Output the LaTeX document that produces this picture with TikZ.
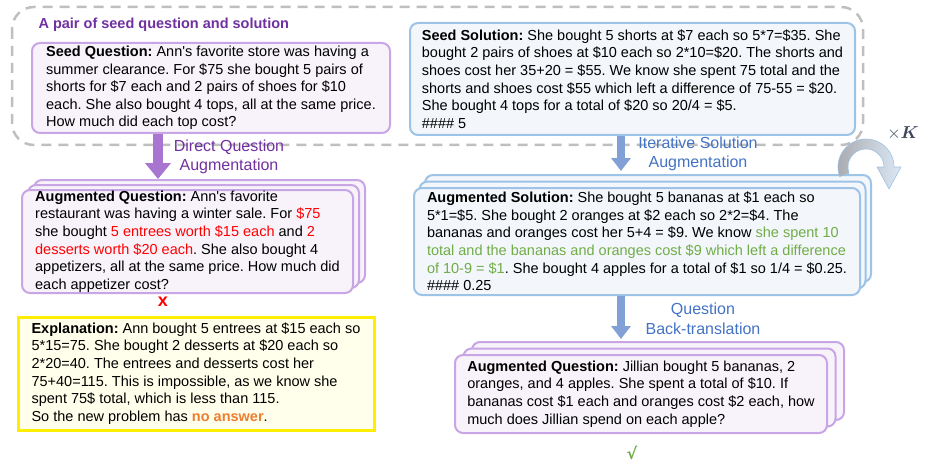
\documentclass[tikz,border=0pt]{standalone}
\usepackage{fontspec}
\setmainfont{Liberation Sans}[Ligatures=TeXOff]
\newfontfamily\symfont{DejaVu Sans}
\usepackage{amsmath}
\usetikzlibrary{arrows.meta,shadows,calc}
\frenchspacing

\definecolor{titlepurple}{RGB}{112,48,160}
\definecolor{qborder}{RGB}{200,165,228}
\definecolor{qfill}{RGB}{248,243,251}
\definecolor{sborder}{RGB}{157,195,230}
\definecolor{sfill}{RGB}{243,246,251}
\definecolor{qarrowc}{RGB}{168,118,208}
\definecolor{sarrowc}{RGB}{128,160,214}
\definecolor{slabelc}{RGB}{68,114,196}
\definecolor{framegray}{RGB}{191,191,191}
\definecolor{explborder}{RGB}{255,238,0}
\definecolor{explfill}{RGB}{255,255,235}
\definecolor{okgreen}{RGB}{112,173,71}
\definecolor{ansorange}{RGB}{237,125,49}
\definecolor{kgray}{RGB}{60,72,90}
\definecolor{ribbongray}{RGB}{170,172,176}
\definecolor{ribbonblue}{RGB}{220,232,246}

\begin{document}
\begin{tikzpicture}[x=1pt,y=-1pt,
    every node/.style={font=\fontsize{14.5}{17.6}\selectfont\frenchspacing},
    box/.style={rounded corners=8pt,line width=2pt,align=left,inner xsep=0pt,inner ysep=0pt},
    qbox/.style={box,draw=qborder,fill=qfill},
    sbox/.style={box,draw=sborder,fill=sfill},
    stack/.style={double copy shadow={shadow xshift=#1}},
    stack/.default={6pt,shadow yshift=5pt},
    steplabel/.style={align=center,font=\fontsize{16}{19.5}\selectfont},
    qarrow/.style={draw=qarrowc,line width=10pt,-{Triangle[length=16pt,width=25pt]}},
    sarrow/.style={draw=sarrowc,line width=8pt,-{Triangle[length=13pt,width=19pt]}}]
    \useasboundingbox (0,0) rectangle (926,468);

    \draw[draw=framegray,line width=2.5pt,dash pattern=on 10pt off 7pt,rounded corners=22pt]
      (12,7) rectangle (863,145);
    \node[anchor=west,text=titlepurple,font=\bfseries\fontsize{14.5}{17.6}\selectfont] (title) at (35,25)
      {A pair of seed question and solution};

    \node[qbox,minimum width=358pt,minimum height=90pt] (seedq) at (211,88) {%
      \textbf{Seed Question:} Ann's favorite store was having a\\
      summer clearance. For \$75 she bought 5 pairs of\\
      shorts for \$7 each and 2 pairs of shoes for \$10\\
      each. She also bought 4 tops, all at the same price.\\
      How much did each top cost?};

    \node[sbox,minimum width=445pt,minimum height=112pt] (seedsol) at (632.5,79) {%
      \textbf{Seed Solution:} She bought 5 shorts at \$7 each so 5*7=\$35. She\\
      bought 2 pairs of shoes at \$10 each so 2*10=\$20. The shorts and\\
      shoes cost her 35+20 = \$55. We know she spent 75 total and the\\
      shorts and shoes cost \$55 which left a difference of 75-55 = \$20.\\
      She bought 4 tops for a total of \$20 so 20/4 = \$5.\\
      \#\#\#\# 5};

    \node[qbox,stack,minimum width=331pt,minimum height=103pt] (augq) at (187.5,241.5) {%
      \textbf{Augmented Question:} Ann's favorite\\
      restaurant was having a winter sale. For \textcolor{red}{\$75}\\
      she bought \textcolor{red}{5 entrees worth \$15 each} and \textcolor{red}{2}\\
      \textcolor{red}{desserts worth \$20 each}. She also bought 4\\
      appetizers, all at the same price. How much did\\
      each appetizer cost?};

    \node[box,rounded corners=0pt,draw=explborder,fill=explfill,line width=3pt,
      minimum width=356pt,minimum height=113pt] (expl) at (196,373.5) {%
      \textbf{Explanation:} Ann bought 5 entrees at \$15 each so\\
      5*15=75. She bought 2 desserts at \$20 each so\\
      2*20=40. The entrees and desserts cost her\\
      75+40=115. This is impossible, as we know she\\
      spent 75\$ total, which is less than 115.\\
      So the new problem has \textcolor{ansorange}{\textbf{no answer}}.};

    \node[sbox,stack={5.5pt,shadow yshift=6.5pt},minimum width=446pt,minimum height=107pt] (augsol) at (637,241.5) {%
      \textbf{Augmented Solution:} She bought 5 bananas at \$1 each so\\
      5*1=\$5. She bought 2 oranges at \$2 each so 2*2=\$4. The\\
      bananas and oranges cost her 5+4 = \$9. We know \textcolor{okgreen}{she spent 10}\\
      \textcolor{okgreen}{total and the bananas and oranges cost \$9 which left a difference}\\
      \textcolor{okgreen}{of 10-9 = \$1}. She bought 4 apples for a total of \$1 so 1/4 = \$0.25.\\
      \#\#\#\# 0.25};

    \node[qbox,stack={8.5pt,shadow yshift=6.5pt},minimum width=372pt,minimum height=78pt] (bq) at (641,394) {%
      \textbf{Augmented Question:} Jillian bought 5 bananas, 2\\
      oranges, and 4 apples. She spent a total of \$10. If\\
      bananas cost \$1 each and oranges cost \$2 each, how\\
      much does Jillian spend on each apple?};

    \coordinate (qx) at (158,0);
    \coordinate (sx) at (621,0);
    \draw[qarrow] (seedq.south -| qx) -- ($(augq.north -| qx)+(0,-10)$);
    \draw[sarrow] (seedsol.south -| sx) -- ($(augsol.north -| sx)+(0,-16)$);
    \draw[sarrow] (augsol.south -| sx) -- ($(bq.north -| sx)+(0,-15)$);

    \node[steplabel,text=titlepurple] (dqa) at (229,157) {Direct Question\\Augmentation};
    \node[steplabel,text=slabelc] (isa) at (698,154) {Iterative Solution\\Augmentation};
    \node[steplabel,text=slabelc] (qbt) at (703,319) {Question\\Back-translation};

    \node[text=red,font=\bfseries\fontsize{18}{18}\selectfont] (wrong) at (163,302) {x};
    \node[text=okgreen,font=\symfont\bfseries\fontsize{16}{16}\selectfont] (right) at (632,453) {√};

    \shadedraw[left color=ribbongray,right color=ribbonblue,draw=sborder,line width=0.6pt]
      plot[domain=160:360,samples=30] ({866+28*cos(\x)},{167+28*sin(\x)})
      -- (901,167) -- (889,189) -- (877,167)
      -- plot[domain=360:160,samples=30] ({866+18*cos(\x)},{167+18*sin(\x)}) -- cycle;
    \node[text=kgray,font=\fontsize{16}{16}\selectfont] (times) at (903,133) {$\times\boldsymbol{K}$};
  \end{tikzpicture}
\end{document}
